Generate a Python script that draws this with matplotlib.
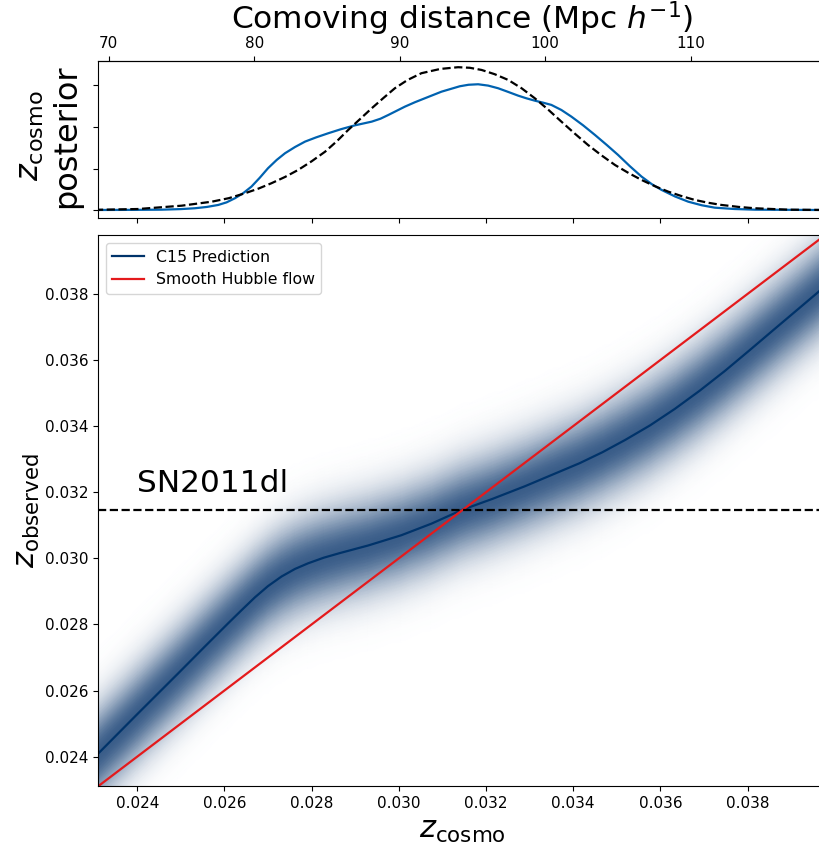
import numpy as np
import matplotlib
matplotlib.use('Agg')
import matplotlib.pyplot as plt
from matplotlib.colors import LinearSegmentedColormap

plt.rcParams['font.size'] = 11

C_KMS = 299792.458  # km/s, for the comoving distance axis (H0 = 100 h)

# top panel: z_cosmo posterior (blue) and prior (dashed)
post_z = [0.02303, 0.02400, 0.02456, 0.02500, 0.02532, 0.02560, 0.02586, 0.02605,
          0.02624, 0.02643, 0.02662, 0.02681, 0.02700, 0.02720, 0.02739, 0.02762,
          0.02785, 0.02810, 0.02838, 0.02868, 0.02899, 0.02938, 0.02958, 0.02976,
          0.02995, 0.03014, 0.03037, 0.03060, 0.03098, 0.03140, 0.03160, 0.03182,
          0.03205, 0.03228, 0.03251, 0.03274, 0.03293, 0.03312, 0.03331, 0.03350,
          0.03373, 0.03396, 0.03423, 0.03450, 0.03477, 0.03503, 0.03530, 0.03557,
          0.03580, 0.03603, 0.03634, 0.03664, 0.03695, 0.03725, 0.03770, 0.03817,
          0.03966]
post_pdf = [0.3, 0.5, 0.7, 1.4, 2.4, 4.0, 6.4, 9.5,
            14.4, 20.5, 28.4, 39.0, 50.5, 60.5, 68.5, 76.0,
            82.5, 87.5, 92.5, 97.5, 102.0, 106.5, 110.0, 114.5,
            119.5, 124.5, 129.8, 134.6, 142.5, 149.0, 150.8, 151.4,
            149.8, 146.6, 142.2, 137.7, 134.5, 131.7, 129.3, 126.6,
            120.5, 112.5, 102.0, 90.5, 78.5, 66.5, 53.0, 40.4,
            31.5, 24.4, 16.5, 10.3, 6.0, 3.1, 1.5, 0.7,
            0.3]

prior_z = [0.02303, 0.02402, 0.02502, 0.02571, 0.02610, 0.02647, 0.02678, 0.02708,
           0.02739, 0.02769, 0.02800, 0.02831, 0.02858, 0.02884, 0.02911, 0.02938,
           0.02965, 0.02991, 0.03020, 0.03052, 0.03095, 0.03136, 0.03163, 0.03190,
           0.03220, 0.03251, 0.03282, 0.03312, 0.03343, 0.03373, 0.03404, 0.03434,
           0.03465, 0.03496, 0.03527, 0.03557, 0.03588, 0.03618, 0.03649, 0.03679,
           0.03710, 0.03740, 0.03780, 0.03817, 0.03893, 0.03966]
prior_pdf = [0.5, 1.5, 5.5, 10.3, 14.5, 20.4, 26.0, 32.5,
             40.0, 48.4, 58.8, 70.4, 83.0, 96.5, 109.5, 122.6,
             135.0, 146.6, 156.5, 164.7, 169.8, 171.9, 171.2, 168.6,
             163.5, 156.6, 146.5, 134.6, 120.8, 106.5, 92.0, 78.5,
             66.0, 54.4, 44.8, 36.4, 28.8, 22.4, 17.0, 12.4,
             9.0, 6.4, 4.0, 2.4, 0.7, 0.4]

# bottom panel: C15 prediction z_obs(z_cosmo) and its scatter
pred_zc = [0.02311, 0.02402, 0.02494, 0.02555, 0.02609, 0.02640, 0.02670, 0.02700,
           0.02731, 0.02762, 0.02792, 0.02828, 0.02865, 0.02930, 0.03006, 0.03075,
           0.03144, 0.03215, 0.03289, 0.03352, 0.03415, 0.03467, 0.03519, 0.03576,
           0.03633, 0.03690, 0.03748, 0.03805, 0.03863, 0.03915, 0.03966, 0.03980]
pred_zo = [0.02410, 0.02531, 0.02652, 0.02733, 0.02804, 0.02844, 0.02882, 0.02916,
           0.02945, 0.02968, 0.02985, 0.03002, 0.03016, 0.03039, 0.03070, 0.03105,
           0.03146, 0.03180, 0.03218, 0.03253, 0.03288, 0.03321, 0.03358, 0.03402,
           0.03452, 0.03507, 0.03567, 0.03630, 0.03695, 0.03753, 0.03810, 0.03826]
band_sigma = 0.00095

hubble_zc = [0.0231, 0.0398]
hubble_zo = [0.0231, 0.0398]

sn_name = 'SN2011dl'
sn_zobs = 0.03146

dist_ticks = [70, 80, 90, 100, 110]
z_ticks = [0.024, 0.026, 0.028, 0.030, 0.032, 0.034, 0.036, 0.038]

fig = plt.figure(figsize=(8.2, 8.6), dpi=100)
ax_top = fig.add_axes([0.1195, 0.7469, 0.8878, 0.1826])
ax = fig.add_axes([0.1195, 0.0860, 0.8878, 0.6402], sharex=ax_top)

# --- top panel
ax_top.plot(post_z, post_pdf, color='#0062b0', lw=1.6)
ax_top.plot(prior_z, prior_pdf, color='k', ls='--', lw=1.6)
ax_top.set_ylim(-8.9, 179.8)
ax_top.set_yticks([0, 50, 100, 150])
ax_top.tick_params(labelleft=False, labelbottom=False)
ax_top.set_ylabel('$z_{\\rm cosmo}$\nposterior', fontsize=23, multialignment='center')
ax_top.yaxis.set_label_coords(-0.022, 0.52)

sec = ax_top.secondary_xaxis('top', functions=(lambda z: z * C_KMS / 100.0,
                                               lambda d: d * 100.0 / C_KMS))
sec.set_xticks(dist_ticks)
sec.set_xlabel('Comoving distance (Mpc $h^{-1}$)', fontsize=22.5, labelpad=5)

# --- bottom panel
band_cmap = LinearSegmentedColormap.from_list('band', ['white', '#3a5d89'])
offsets = np.linspace(-3.5, 3.5, 71)
zc = np.asarray(pred_zc)
zo = np.asarray(pred_zo)
X = np.tile(zc, (len(offsets), 1))
Y = zo[None, :] + offsets[:, None] * band_sigma
C = np.exp(-0.5 * offsets[:, None] ** 2) * np.ones_like(X)
ax.pcolormesh(X, Y, C, shading='gouraud', cmap=band_cmap, vmin=0, vmax=1,
              rasterized=True, zorder=0)

ax.plot(pred_zc, pred_zo, color='#00336a', lw=1.6, label='C15 Prediction')
ax.plot(hubble_zc, hubble_zo, color='#e41a1c', lw=1.6, label='Smooth Hubble flow')
ax.axhline(sn_zobs, color='k', ls='--', lw=1.6)
ax.text(0.024, 0.0320, sn_name, fontsize=22.5)

ax.set_xlim(0.0231, 0.0398)
ax.set_ylim(0.02311, 0.03977)
ax.set_xticks(z_ticks)
ax.set_yticks(z_ticks)
ax.set_xlabel('$z_{\\rm cosmo}$', fontsize=22)
ax.set_ylabel('$z_{\\rm observed}$', fontsize=22)
ax.yaxis.set_label_coords(-0.077, 0.5)
ax.legend(loc='upper left', fontsize=11.3)

fig.savefig('out.png', dpi=100)
